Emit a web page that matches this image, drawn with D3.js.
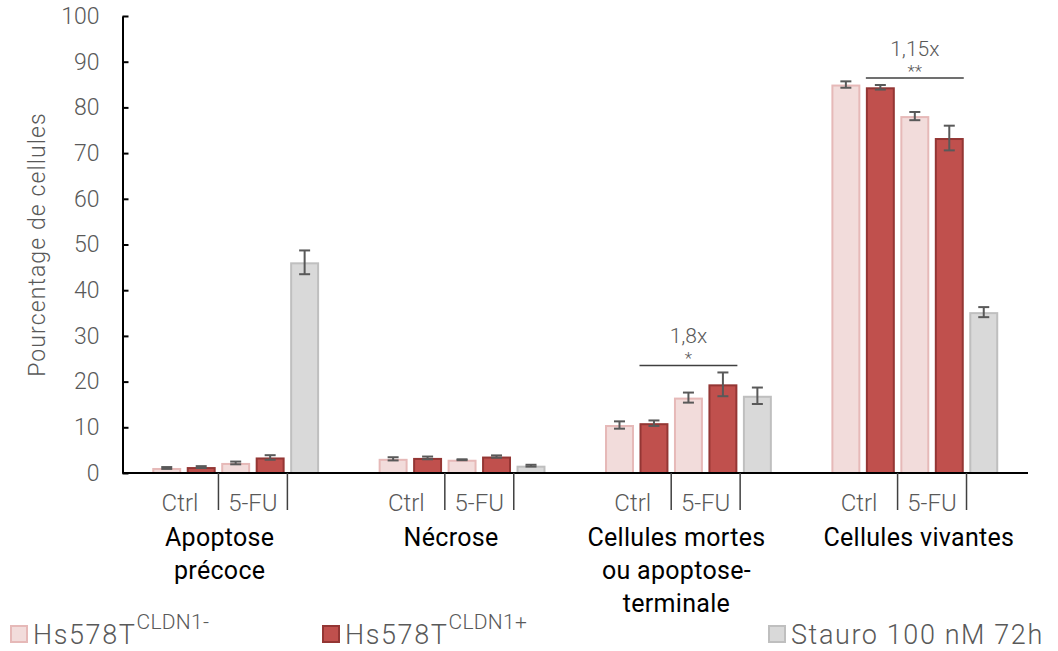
<!DOCTYPE html>
<html>
<head>
<meta charset="utf-8">
<script src="https://cdn.jsdelivr.net/npm/d3@7"></script>
<style>
  html, body { margin: 0; padding: 0; background: #fff; }
  svg { display: block; font-family: Roboto, "Liberation Sans", sans-serif; }
</style>
</head>
<body>
<svg id="chart" width="1058" height="651"></svg>
<script>
// ---- data ----
const categories = ["Apoptose précoce", "Nécrose", "Cellules mortes ou apoptose-terminale", "Cellules vivantes"];
const categoryLines = [["Apoptose", "précoce"], ["Nécrose"], ["Cellules mortes", "ou apoptose-", "terminale"], ["Cellules vivantes"]];
const seriesKeys = ["ctrlNeg", "ctrlPos", "fuNeg", "fuPos", "stauro"];

const ctrlNeg = [1.1, 3.1, 10.5, 85.0];
const ctrlNegErr = [0.2, 0.35, 0.8, 0.7];
const ctrlPos = [1.3, 3.3, 10.9, 84.4];
const ctrlPosErr = [0.2, 0.3, 0.6, 0.5];
const fuNeg = [2.2, 2.9, 16.5, 78.1];
const fuNegErr = [0.3, 0.1, 1.1, 0.9];
const fuPos = [3.4, 3.6, 19.4, 73.3];
const fuPosErr = [0.5, 0.25, 2.6, 2.7];
const stauro = [46.1, 1.6, 16.9, 35.2];
const stauroErr = [2.6, 0.2, 1.8, 1.1];

const treatmentLabels = ["Ctrl", "5-FU"];
const yTicks = [0, 10, 20, 30, 40, 50, 60, 70, 80, 90, 100];
const yTitle = "Pourcentage de cellules";

const annotations = [
  { cat: 2, from: "ctrlPos", to: "fuPos", ratio: "1,8x", stars: "*" },
  { cat: 3, from: "ctrlPos", to: "fuPos", ratio: "1,15x", stars: "**" }
];

const legendItems = [
  { key: "ctrlNeg", main: "Hs578T", sup: "CLDN1-" },
  { key: "ctrlPos", main: "Hs578T", sup: "CLDN1+" },
  { key: "stauro", main: "Stauro 100 nM 72h", sup: "" }
];

// ---- styles ----
const fills = { ctrlNeg: "#f2dcdb", ctrlPos: "#c0504d", fuNeg: "#f2dcdb", fuPos: "#c0504d", stauro: "#d9d9d9" };
const strokes = { ctrlNeg: "#e6b9b8", ctrlPos: "#943634", fuNeg: "#e6b9b8", fuPos: "#943634", stauro: "#bfbfbf" };

const values = { ctrlNeg, ctrlPos, fuNeg, fuPos, stauro };
const errors = { ctrlNeg: ctrlNegErr, ctrlPos: ctrlPosErr, fuNeg: fuNegErr, fuPos: fuPosErr, stauro: stauroErr };

const svg = d3.select("#chart");
const plotLeft = 122.5, plotRight = 1028, plotTop = 16, plotBottom = 473;

const x0 = d3.scaleBand().domain(d3.range(categories.length)).range([plotLeft, plotRight])
  .paddingInner(0.263).paddingOuter(0.1315);
const x1 = d3.scaleBand().domain(seriesKeys).range([0, x0.bandwidth()]).paddingInner(0.16).paddingOuter(0);
const y = d3.scaleLinear().domain([0, 100]).range([plotBottom, plotTop]);

// bars
const groups = svg.append("g").selectAll("g").data(categories.map((c, i) => i)).join("g")
  .attr("transform", i => `translate(${x0(i)},0)`);

groups.selectAll("rect").data(i => seriesKeys.map(k => ({ k, v: values[k][i], e: errors[k][i] })))
  .join("rect")
  .attr("x", d => x1(d.k) + 1)
  .attr("width", x1.bandwidth() - 2)
  .attr("y", d => y(d.v) + 1)
  .attr("height", d => y(0) - y(d.v) - 1)
  .attr("fill", d => fills[d.k])
  .attr("stroke", d => strokes[d.k])
  .attr("stroke-width", 2);

// error bars
const capW = 11;
const eb = groups.selectAll("g.err").data(i => seriesKeys.map(k => ({ k, v: values[k][i], e: errors[k][i] })))
  .join("g").attr("class", "err")
  .attr("stroke", "#595959").attr("stroke-width", 2);
eb.append("line")
  .attr("x1", d => x1(d.k) + x1.bandwidth() / 2).attr("x2", d => x1(d.k) + x1.bandwidth() / 2)
  .attr("y1", d => y(d.v + d.e)).attr("y2", d => y(d.v - d.e));
eb.append("line")
  .attr("x1", d => x1(d.k) + x1.bandwidth() / 2 - capW / 2).attr("x2", d => x1(d.k) + x1.bandwidth() / 2 + capW / 2)
  .attr("y1", d => y(d.v + d.e)).attr("y2", d => y(d.v + d.e));
eb.append("line")
  .attr("x1", d => x1(d.k) + x1.bandwidth() / 2 - capW / 2).attr("x2", d => x1(d.k) + x1.bandwidth() / 2 + capW / 2)
  .attr("y1", d => y(d.v - d.e)).attr("y2", d => y(d.v - d.e));

// y axis
const yAxis = d3.axisLeft(y).tickValues(yTicks).tickSizeInner(-6).tickSizeOuter(0).tickPadding(23);
const yg = svg.append("g").attr("transform", `translate(${plotLeft},0)`).call(yAxis);
yg.select(".domain").attr("stroke", "#000").attr("stroke-width", 2);
yg.selectAll(".tick line").attr("stroke", "#000").attr("stroke-width", 2);
yg.selectAll(".tick text").attr("fill", "#595959").attr("font-size", 23).attr("font-weight", 300)
  .attr("font-family", "Roboto, 'Liberation Sans', sans-serif");

// x axis line
svg.append("line").attr("x1", plotLeft).attr("x2", plotRight).attr("y1", y(0)).attr("y2", y(0))
  .attr("stroke", "#000").attr("stroke-width", 2);

// y title
svg.append("text").attr("transform", `translate(45,${(plotTop + plotBottom) / 2}) rotate(-90)`)
  .attr("text-anchor", "middle").attr("fill", "#595959").attr("font-size", 23).attr("font-weight", 300)
  .attr("letter-spacing", 1.1)
  .text(yTitle);

// separators and treatment labels
const gap = x1.step() * x1.paddingInner();
const labelDx = [-16, -11, -12, 4];
categories.forEach((c, i) => {
  const base = x0(i);
  const sep1 = base + x1("fuNeg") - gap / 2;
  const sep2 = base + x1("stauro") - gap / 2;
  [sep1, sep2].forEach(sx => {
    svg.append("line").attr("x1", sx).attr("x2", sx).attr("y1", y(0)).attr("y2", y(0) + 37)
      .attr("stroke", "#404040").attr("stroke-width", 1.5);
  });
  const ctrlC = base + (x1("ctrlNeg") + x1("ctrlPos") + x1.bandwidth()) / 2 - 4;
  const fuC = (sep1 + sep2) / 2;
  svg.append("text").attr("x", ctrlC).attr("y", 511).attr("text-anchor", "middle")
    .attr("fill", "#595959").attr("font-size", 24).attr("font-weight", 300).text(treatmentLabels[0]);
  svg.append("text").attr("x", fuC).attr("y", 511).attr("text-anchor", "middle")
    .attr("fill", "#595959").attr("font-size", 24).attr("font-weight", 300).text(treatmentLabels[1]);

  const t = svg.append("text").attr("text-anchor", "middle").attr("fill", "#000")
    .attr("font-size", 25).attr("font-weight", 400).attr("letter-spacing", 0.3);
  categoryLines[i].forEach((ln, j) => {
    t.append("tspan").attr("x", base + x0.bandwidth() / 2 + labelDx[i]).attr("y", 546 + j * 33).text(ln);
  });
});

// significance annotations
annotations.forEach(a => {
  const base = x0(a.cat);
  const xa = base + x1(a.from);
  const xb = base + x1(a.to) + x1.bandwidth();
  const keys = seriesKeys.slice(seriesKeys.indexOf(a.from), seriesKeys.indexOf(a.to) + 1);
  const top = d3.max(keys, k => values[k][a.cat] + errors[k][a.cat]);
  const ly = y(top) - 7;
  const cx = (xa + xb) / 2;
  svg.append("line").attr("x1", xa).attr("x2", xb).attr("y1", ly).attr("y2", ly)
    .attr("stroke", "#404040").attr("stroke-width", 1.5);
  svg.append("text").attr("x", cx).attr("y", ly - 1).attr("text-anchor", "middle")
    .attr("fill", "#595959").attr("font-size", 17).attr("font-weight", 300).text(a.stars);
  svg.append("text").attr("x", cx).attr("y", ly - 22).attr("text-anchor", "middle")
    .attr("fill", "#595959").attr("font-size", 21).attr("font-weight", 300).text(a.ratio);
});

// legend
const legendX = [10, 322, 768];
legendItems.forEach((it, i) => {
  const g = svg.append("g").attr("transform", `translate(${legendX[i]},625)`);
  g.append("rect").attr("x", 1).attr("y", 1).attr("width", 16).attr("height", 16)
    .attr("fill", fills[it.key]).attr("stroke", strokes[it.key]).attr("stroke-width", 2);
  const t = g.append("text").attr("x", 23).attr("y", 19).attr("fill", "#595959")
    .attr("font-size", 27).attr("font-weight", 300);
  t.append("tspan").attr("letter-spacing", 1.6).text(it.main);
  if (it.sup) t.append("tspan").attr("dy", -15).attr("font-size", 21).attr("letter-spacing", 0.3).text(it.sup);
});
</script>
</body>
</html>
